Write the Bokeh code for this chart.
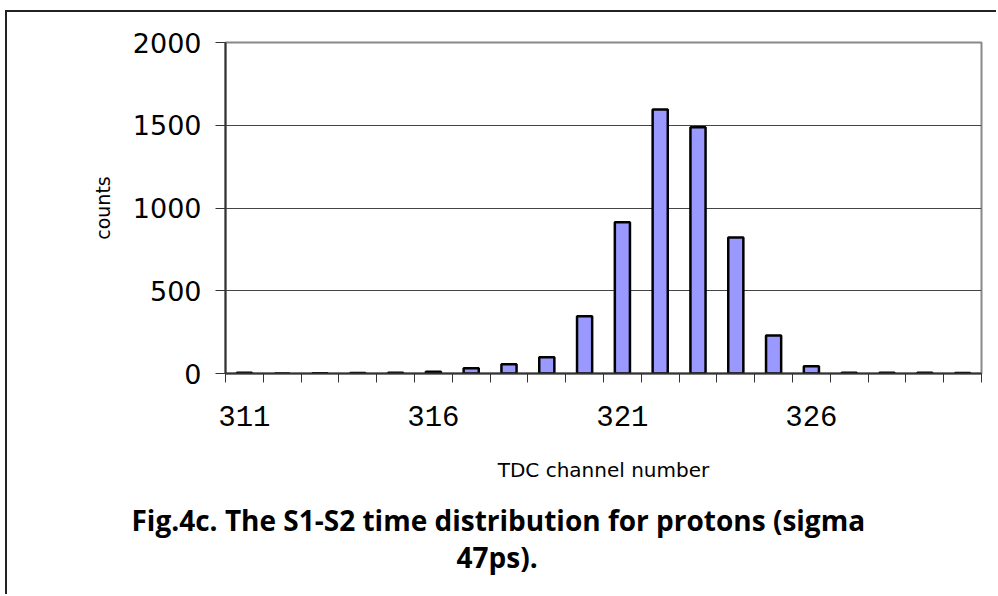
from bokeh.plotting import figure
from bokeh.models import FixedTicker, Range1d, Title
from bokeh.embed import file_html
from bokeh.resources import INLINE

channels = [311, 312, 313, 314, 315, 316, 317, 318, 319, 320,
            321, 322, 323, 324, 325, 326, 327, 328, 329, 330]
counts = [4, 0, 2, 3, 5, 10, 32, 56, 98, 346,
          914, 1595, 1488, 821, 230, 44, 4, 4, 4, 3]
x_tick_labels = [311, 316, 321, 326]
y_ticks = [0, 500, 1000, 1500, 2000]
title_lines = ["Fig.4c. The S1-S2 time distribution for protons (sigma", "47ps)."]

p = figure(width=991, height=584, output_backend="svg", toolbar_location=None,
           x_range=Range1d(310.5, 330.5), y_range=Range1d(0, 2000),
           min_border_left=218, min_border_right=17, min_border_top=30, min_border_bottom=223,
           styles={"margin-left": "5px", "margin-top": "10px",
                   "border-left": "2px solid #222", "border-top": "2px solid #222"})

p.vbar(x=channels, top=counts, width=0.4, fill_color="#9999FF",
       line_color="black", line_width=2.5)

p.outline_line_color = "#888888"
p.outline_line_width = 2
p.background_fill_color = "white"
p.border_fill_color = "white"

p.xgrid.visible = False
p.ygrid.ticker = FixedTicker(ticks=[500, 1000, 1500])
p.ygrid.grid_line_color = "#444444"
p.ygrid.grid_line_width = 1

# y axis
p.yaxis.ticker = FixedTicker(ticks=y_ticks)
p.yaxis.major_tick_out = 10
p.yaxis.major_tick_in = 0
p.yaxis.minor_tick_out = 0
p.yaxis.minor_tick_in = 0
p.yaxis.axis_line_color = "#333333"
p.yaxis.axis_line_width = 2
p.yaxis.major_tick_line_color = "#333333"
p.yaxis.major_label_text_font = "DejaVu Sans"
p.yaxis.major_label_text_font_size = "27px"
p.yaxis.major_label_text_color = "black"
p.yaxis.major_label_standoff = 14
p.yaxis.axis_label = "counts"
p.yaxis.axis_label_text_font = "DejaVu Sans"
p.yaxis.axis_label_text_font_size = "19px"
p.yaxis.axis_label_text_font_style = "normal"
p.yaxis.axis_label_text_color = "black"
p.yaxis.axis_label_standoff = 16

# x axis
boundaries = [c - 0.5 for c in channels] + [channels[-1] + 0.5]
p.xaxis.ticker = FixedTicker(ticks=x_tick_labels, minor_ticks=boundaries)
p.xaxis.major_tick_out = 0
p.xaxis.major_tick_in = 0
p.xaxis.minor_tick_out = 9
p.xaxis.minor_tick_in = 0
p.xaxis.minor_tick_line_color = "#333333"
p.xaxis.axis_line_color = "#333333"
p.xaxis.axis_line_width = 2
p.xaxis.major_label_text_font = "Liberation Mono"
p.xaxis.major_label_text_font_size = "29px"
p.xaxis.major_label_text_color = "black"
p.xaxis.major_label_standoff = 23
p.xaxis.axis_label = "TDC channel number"
p.xaxis.axis_label_text_font = "DejaVu Sans"
p.xaxis.axis_label_text_font_size = "20px"
p.xaxis.axis_label_text_font_style = "normal"
p.xaxis.axis_label_text_color = "black"
p.xaxis.axis_label_standoff = 29

# spacer between axis and caption
p.add_layout(Title(text=" ", text_font_size="11px", standoff=0), "below")
p.add_layout(Title(text=title_lines[0], align="left", offset=-94, standoff=0,
                   text_font="Open Sans", text_font_style="bold", text_font_size="28px",
                   text_color="black"), "below")
p.add_layout(Title(text=title_lines[1], align="left", offset=231, standoff=-6,
                   text_font="Open Sans", text_font_style="bold", text_font_size="28px",
                   text_color="black"), "below")

open("out.html", "w").write(file_html(p, INLINE))
